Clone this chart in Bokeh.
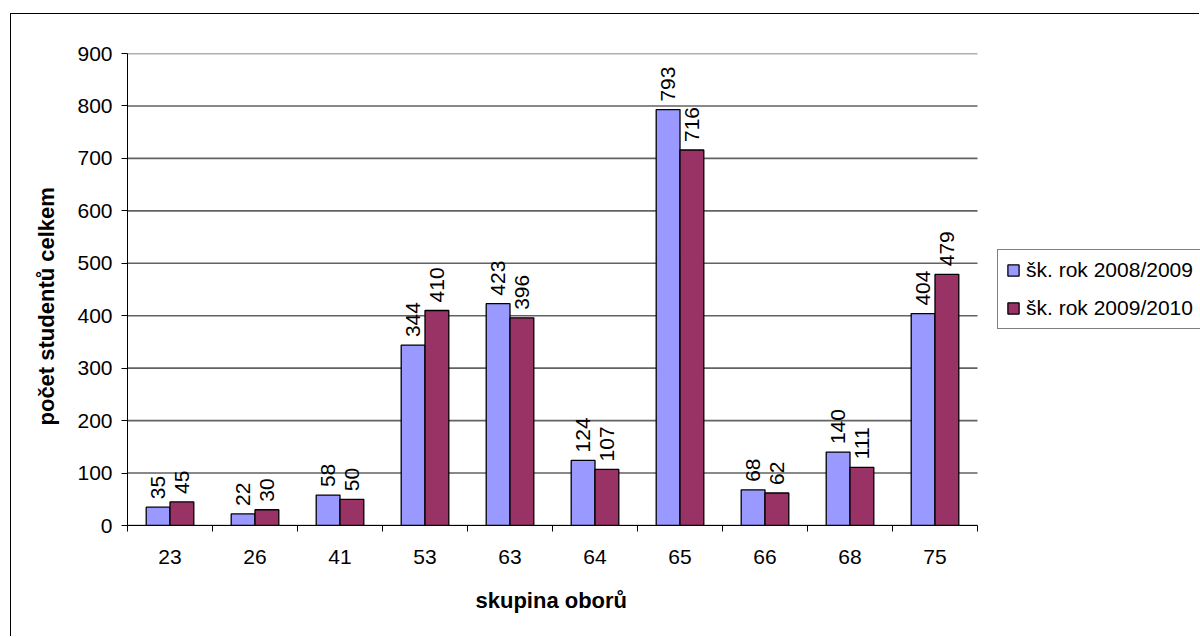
import math
from bokeh.plotting import figure
from bokeh.models import (Range1d, FixedTicker, Legend, LegendItem, ColumnDataSource, Title)
from bokeh.core.properties import value
from bokeh.embed import file_html
from bokeh.resources import INLINE

# ---- data ----
categories = ["23", "26", "41", "53", "63", "64", "65", "66", "68", "75"]
rok_2008_2009 = [35, 22, 58, 344, 423, 124, 793, 68, 140, 404]
rok_2009_2010 = [45, 30, 50, 410, 396, 107, 716, 62, 111, 479]
series_names = ["šk. rok 2008/2009", "šk. rok 2009/2010"]
y_ticks = [0, 100, 200, 300, 400, 500, 600, 700, 800, 900]
x_title = "skupina oborů"
y_title = "počet studentů celkem"

FONT = "Liberation Sans"
BLUE = "#9999FF"
RED = "#993366"
BAR_W = 0.28

W, H = 1189, 623
LEFT, TOP, BOTTOM = 116, 39, 112
PLOT_PX = 850  # width of the category area in pixels
n = len(categories)
x_end = n * (W - LEFT) / PLOT_PX

centers = [i + 0.5 for i in range(n)]
src1 = ColumnDataSource(dict(x=[c - BAR_W / 2 for c in centers], top=rok_2008_2009,
                             label=[str(v) for v in rok_2008_2009]))
src2 = ColumnDataSource(dict(x=[c + BAR_W / 2 for c in centers], top=rok_2009_2010,
                             label=[str(v) for v in rok_2009_2010]))
grid_src = ColumnDataSource(dict(x0=[0] * len(y_ticks), x1=[n] * len(y_ticks), y=y_ticks))

p = figure(width=W, height=H, output_backend="svg", toolbar_location=None,
           x_range=Range1d(0, x_end), y_range=Range1d(0, 900),
           min_border_left=LEFT, min_border_right=0, min_border_top=TOP, min_border_bottom=BOTTOM)
p.styles = {"margin-left": "10px", "margin-top": "13px",
            "border-left": "1px solid black", "border-top": "1px solid black"}
p.outline_line_color = None
p.background_fill_color = "white"
p.border_fill_color = "white"

# grid (limited to the category area)
p.xgrid.grid_line_color = None
p.ygrid.grid_line_color = None
p.segment(x0="x0", x1="x1", y0="y", y1="y", source=grid_src,
          line_color="#626262", line_width=1.6)

# y axis
p.yaxis.ticker = FixedTicker(ticks=y_ticks)
p.yaxis.axis_line_color = "black"
p.yaxis.major_tick_out = 6
p.yaxis.major_tick_in = 0
p.yaxis.minor_tick_line_color = None
p.yaxis.major_label_text_font = FONT
p.yaxis.major_label_text_font_size = "21px"
p.yaxis.major_label_text_color = "black"
p.yaxis.major_label_standoff = 9

# x axis
p.xaxis.ticker = FixedTicker(ticks=centers, minor_ticks=list(range(n + 1)))
p.xaxis.bounds = (0, n)
p.xaxis.major_label_overrides = {c: lab for c, lab in zip(centers, categories)}
p.xaxis.axis_line_color = "black"
p.xaxis.major_tick_out = 0
p.xaxis.major_tick_in = 0
p.xaxis.minor_tick_out = 6
p.xaxis.minor_tick_in = 0
p.xaxis.minor_tick_line_color = "black"
p.xaxis.major_label_text_font = FONT
p.xaxis.major_label_text_font_size = "21px"
p.xaxis.major_label_text_color = "black"
p.xaxis.major_label_standoff = 18

# axis titles (as titles so they can be placed off the frame centre)
t_x = Title(text=x_title, align="left", offset=348, vertical_align="middle", standoff=40,
            text_font=FONT, text_font_style="bold", text_font_size="22px", text_color="black")
p.add_layout(t_x, "below")
t_y = Title(text=y_title, align="left", offset=100, vertical_align="middle", standoff=29,
            text_font=FONT, text_font_style="bold", text_font_size="22px", text_color="black")
p.add_layout(t_y, "left")

# bars
r1 = p.vbar(x="x", top="top", width=BAR_W, bottom=0, source=src1,
            fill_color=BLUE, line_color="black", line_width=1.3)
r2 = p.vbar(x="x", top="top", width=BAR_W, bottom=0, source=src2,
            fill_color=RED, line_color="black", line_width=1.3)

# value labels
for s in (src1, src2):
    p.text(x="x", y="top", text="label", source=s, angle=math.pi / 2,
           text_align="left", text_baseline="middle", y_offset=-8,
           text_font=value(FONT), text_font_size="21px", text_color="black")

legend = Legend(items=[LegendItem(label=series_names[0], renderers=[r1]),
                       LegendItem(label=series_names[1], renderers=[r2])],
                location=(870, 196), orientation="vertical",
                glyph_width=14, glyph_height=14, label_height=24, spacing=14,
                padding=8, margin=0, label_standoff=6,
                label_text_font=FONT, label_text_font_size="21px", label_text_color="black",
                border_line_color="black", border_line_width=1,
                background_fill_color="white", background_fill_alpha=1)
p.add_layout(legend, "center")

open("out.html", "w").write(file_html(p, INLINE))
